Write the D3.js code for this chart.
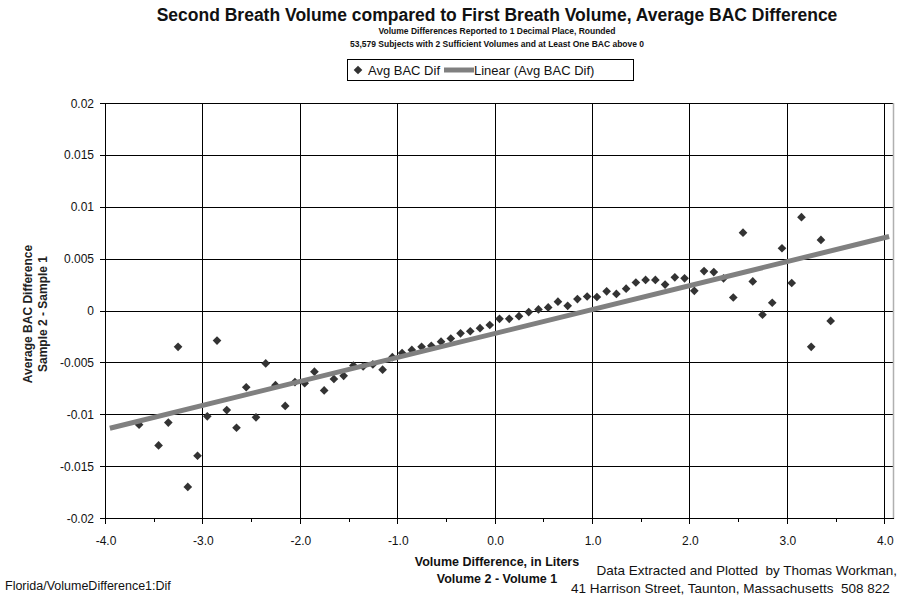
<!DOCTYPE html>
<html>
<head>
<meta charset="utf-8">
<script src="https://cdn.jsdelivr.net/npm/d3@7"></script>
<style>
  html, body { margin: 0; padding: 0; background: #fff; }
  svg { display: block; font-family: "Liberation Sans", Arial, sans-serif; }
</style>
</head>
<body>
<svg id="chart" width="901" height="600"></svg>
<script>
// Volume difference bins (litres, rounded to 0.1) that have data
const volumeDiff = [
  -3.7, -3.5, -3.4, -3.3, -3.2, -3.1, -3.0, -2.9, -2.8, -2.7,
  -2.6, -2.5, -2.4, -2.3, -2.2, -2.1, -2.0, -1.9, -1.8, -1.7,
  -1.6, -1.5, -1.4, -1.3, -1.2, -1.1, -1.0, -0.9, -0.8, -0.7,
  -0.6, -0.5, -0.4, -0.3, -0.2, -0.1, 0.0, 0.1, 0.2, 0.3,
  0.4, 0.5, 0.6, 0.7, 0.8, 0.9, 1.0, 1.1, 1.2, 1.3,
  1.4, 1.5, 1.6, 1.7, 1.8, 1.9, 2.0, 2.1, 2.2, 2.3,
  2.4, 2.5, 2.6, 2.7, 2.8, 2.9, 3.0, 3.1, 3.2, 3.3, 3.4
];
// Average BAC difference (sample 2 - sample 1) per bin
const avgBacDif = [
  -0.0110, -0.0130, -0.0108, -0.0035, -0.0170, -0.0140, -0.0102, -0.0029, -0.0096, -0.0113,
  -0.0074, -0.0103, -0.0051, -0.0072, -0.0092, -0.0069, -0.0070, -0.0059, -0.0077, -0.0066,
  -0.0063, -0.0053, -0.0054, -0.0052, -0.0057, -0.0045, -0.0041, -0.0038, -0.0035, -0.0034,
  -0.0030, -0.0027, -0.0022, -0.0020, -0.0017, -0.0014, -0.0008, -0.0008, -0.00055, -0.00015,
  0.0001, 0.0003, 0.00085, 0.00045, 0.0011, 0.00135, 0.0013, 0.00185, 0.0016, 0.0021,
  0.0027, 0.00295, 0.00295, 0.0025, 0.0032, 0.0031, 0.0019, 0.0038, 0.0037, 0.0031,
  0.00125, 0.0075, 0.0028, -0.0004, 0.00075, 0.0060, 0.00265, 0.0090, -0.0035, 0.0068, -0.0010
];

// Category axis: every 0.1 litre from -4.0 to 4.0
const categories = d3.range(-40, 41).map(i => (i / 10).toFixed(1));
const xMajorLabels = ["-4.0", "-3.0", "-2.0", "-1.0", "0.0", "1.0", "2.0", "3.0", "4.0"];
const xMinorLabels = ["-3.5", "-2.5", "-1.5", "-0.5", "0.5", "1.5", "2.5", "3.5"];
const yTicks = [-0.02, -0.015, -0.01, -0.005, 0, 0.005, 0.01, 0.015, 0.02];
const yTickLabels = ["-0.02", "-0.015", "-0.01", "-0.005", "0", "0.005", "0.01", "0.015", "0.02"];

const titleText = "Second Breath Volume compared to First Breath Volume, Average BAC Difference";
const subtitleLines = [
  "Volume Differences Reported to 1 Decimal Place, Rounded",
  "53,579 Subjects with 2 Sufficient Volumes and at Least One BAC above 0"
];

const svg = d3.select("#chart");
const plot = { left: 105, right: 894, top: 103, bottom: 518 };

const x = d3.scaleBand().domain(categories).range([plot.left, plot.right]).paddingInner(0).paddingOuter(0);
const xc = v => x(v.toFixed(1)) + x.bandwidth() / 2;
const y = d3.scaleLinear().domain([-0.02, 0.02]).range([plot.bottom, plot.top]);

// Horizontal gridlines
svg.append("g").selectAll("line").data(yTicks).join("line")
  .attr("x1", plot.left).attr("x2", plot.right)
  .attr("y1", d => Math.round(y(d)) + 0.5).attr("y2", d => Math.round(y(d)) + 0.5)
  .attr("stroke", "#000").attr("stroke-width", 1);

// Vertical gridlines at labelled category boundaries
svg.append("g").selectAll("line").data(xMajorLabels).join("line")
  .attr("x1", d => Math.round(x(d)) + 0.5).attr("x2", d => Math.round(x(d)) + 0.5)
  .attr("y1", plot.top).attr("y2", plot.bottom)
  .attr("stroke", "#000").attr("stroke-width", 1);

// Plot area right border
svg.append("line")
  .attr("x1", plot.right - 0.5).attr("x2", plot.right - 0.5)
  .attr("y1", plot.top).attr("y2", plot.bottom + 1)
  .attr("stroke", "#b0b0b0").attr("stroke-width", 1.5);

// Y axis
const yAxis = svg.append("g");
yAxis.append("line")
  .attr("x1", plot.left + 0.5).attr("x2", plot.left + 0.5)
  .attr("y1", plot.top).attr("y2", plot.bottom + 1)
  .attr("stroke", "#000");
yAxis.selectAll("line.tick").data(yTicks).join("line").attr("class", "tick")
  .attr("x1", plot.left - 5).attr("x2", plot.left)
  .attr("y1", d => Math.round(y(d)) + 0.5).attr("y2", d => Math.round(y(d)) + 0.5)
  .attr("stroke", "#000");
yAxis.selectAll("text").data(yTicks).join("text")
  .attr("x", 94).attr("y", d => y(d) + 4.5)
  .attr("text-anchor", "end").attr("font-size", 12).attr("fill", "#111")
  .text((d, i) => yTickLabels[i]);

// X axis
const xAxis = svg.append("g");
xAxis.append("line")
  .attr("x1", plot.left).attr("x2", plot.right)
  .attr("y1", plot.bottom + 0.5).attr("y2", plot.bottom + 0.5)
  .attr("stroke", "#000");
xAxis.selectAll("line.major").data(xMajorLabels).join("line").attr("class", "major")
  .attr("x1", d => Math.round(x(d)) + 0.5).attr("x2", d => Math.round(x(d)) + 0.5)
  .attr("y1", plot.bottom).attr("y2", plot.bottom + 6)
  .attr("stroke", "#000");
xAxis.selectAll("line.minor").data(xMinorLabels).join("line").attr("class", "minor")
  .attr("x1", d => Math.round(x(d)) + 0.5).attr("x2", d => Math.round(x(d)) + 0.5)
  .attr("y1", plot.bottom).attr("y2", plot.bottom + 4)
  .attr("stroke", "#000");
xAxis.selectAll("text").data(xMajorLabels).join("text")
  .attr("x", d => x(d) + 1).attr("y", 545)
  .attr("text-anchor", "middle").attr("font-size", 12).attr("fill", "#111")
  .text(d => d);

// Data markers (diamonds)
const diamond = d3.symbol().type(d3.symbolDiamond2).size(48);
svg.append("g").selectAll("path").data(volumeDiff).join("path")
  .attr("d", diamond)
  .attr("transform", (d, i) => `translate(${xc(d)},${y(avgBacDif[i])})`)
  .attr("fill", "#333");

// Least-squares linear trend over the data, drawn across the whole category range
const mx = d3.mean(volumeDiff), my = d3.mean(avgBacDif);
let sxy = 0, sxx = 0;
volumeDiff.forEach((v, i) => { sxy += (v - mx) * (avgBacDif[i] - my); sxx += (v - mx) * (v - mx); });
const slope = sxy / sxx, intercept = my - slope * mx;
const trendX = [-4.0, 4.0];
svg.append("line")
  .attr("x1", xc(trendX[0])).attr("y1", y(intercept + slope * trendX[0]))
  .attr("x2", xc(trendX[1])).attr("y2", y(intercept + slope * trendX[1]))
  .attr("stroke", "#808080").attr("stroke-width", 5).attr("stroke-linecap", "butt");

// Titles
svg.append("text").attr("x", 497).attr("y", 21).attr("text-anchor", "middle")
  .attr("font-size", 17.5).attr("font-weight", "bold").attr("fill", "#111").text(titleText);
svg.selectAll("text.sub").data(subtitleLines).join("text").attr("class", "sub")
  .attr("x", 497).attr("y", (d, i) => 34 + i * 13).attr("text-anchor", "middle")
  .attr("font-size", 8.5).attr("font-weight", "bold").attr("fill", "#111").text(d => d);

// Legend
const legend = svg.append("g");
legend.append("rect").attr("x", 347.5).attr("y", 59.5).attr("width", 286).attr("height", 21)
  .attr("fill", "#fff").attr("stroke", "#000");
legend.append("path").attr("d", diamond).attr("transform", "translate(358,70)").attr("fill", "#333");
legend.append("text").attr("x", 368).attr("y", 74.5).attr("font-size", 13).attr("fill", "#111").text("Avg BAC Dif");
legend.append("line").attr("x1", 444).attr("x2", 474).attr("y1", 70).attr("y2", 70)
  .attr("stroke", "#808080").attr("stroke-width", 5);
legend.append("text").attr("x", 474).attr("y", 74.5).attr("font-size", 13).attr("fill", "#111").text("Linear (Avg BAC Dif)");

// Axis titles
const yTitle = svg.append("text").attr("transform", "translate(32,314) rotate(-90)")
  .attr("text-anchor", "middle").attr("font-size", 12).attr("font-weight", "bold").attr("fill", "#222");
yTitle.append("tspan").attr("x", 0).attr("dy", 0).text("Average BAC Difference");
yTitle.append("tspan").attr("x", 0).attr("dy", 15).text("Sample 2 - Sample 1");

svg.append("text").attr("x", 497).attr("y", 566).attr("text-anchor", "middle")
  .attr("font-size", 12.5).attr("font-weight", "bold").attr("fill", "#111").text("Volume Difference, in Liters");
svg.append("text").attr("x", 497).attr("y", 583).attr("text-anchor", "middle")
  .attr("font-size", 12.5).attr("font-weight", "bold").attr("fill", "#111").text("Volume 2 - Volume 1");

// Footer notes
svg.append("text").attr("x", 5).attr("y", 590).attr("font-size", 12.5).attr("fill", "#111")
  .text("Florida/VolumeDifference1:Dif");
svg.append("text").attr("x", 897).attr("y", 575).attr("text-anchor", "end").attr("font-size", 13.5).attr("fill", "#111")
  .text("Data Extracted and Plotted  by Thomas Workman,").attr("xml:space", "preserve");
svg.append("text").attr("x", 571).attr("y", 593).attr("font-size", 13.5).attr("fill", "#111")
  .text("41 Harrison Street, Taunton, Massachusetts  508 822").attr("xml:space", "preserve");
</script>
</body>
</html>
